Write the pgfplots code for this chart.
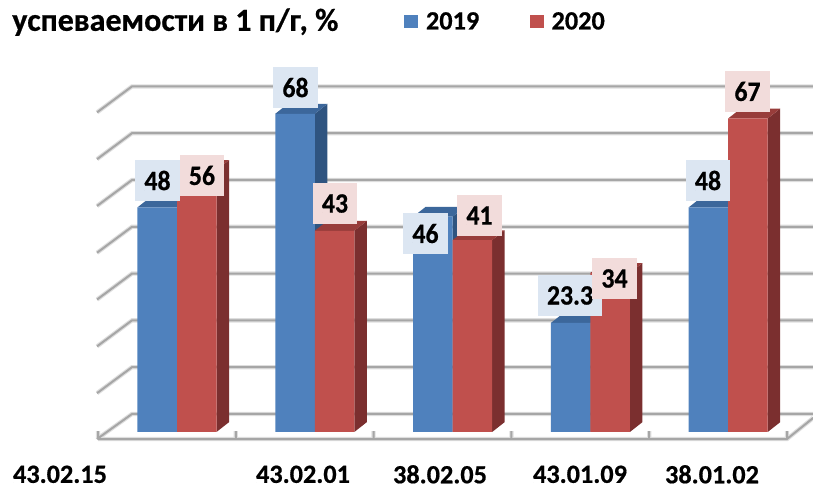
\documentclass[border=0pt]{standalone}
\usepackage{fontspec}
\setmainfont[BoldFeatures={FakeBold=0.6}]{Carlito}
\newfontfamily\valfam[BoldFeatures={FakeBold=0.6,FakeStretch=0.92}]{Carlito}
\usepackage{pgfplots}
\usepackage{pgfplotstable}
\pgfplotsset{compat=1.18}

\definecolor{blueF}{HTML}{4F81BD}
\definecolor{blueS}{HTML}{2F5480}
\definecolor{blueT}{HTML}{3C679B}
\definecolor{redF}{HTML}{C0504D}
\definecolor{redS}{HTML}{7B2F2F}
\definecolor{redT}{HTML}{983D3B}
\definecolor{blueL}{HTML}{DCE6F2}
\definecolor{redL}{HTML}{F2DCDB}
\definecolor{gridD}{HTML}{A6A6A6}
\definecolor{gridS}{HTML}{DEDEDE}

\newcommand\lblfont{\fontsize{19.7}{20}\selectfont\bfseries}
\newcommand\valfont{\valfam\fontsize{21}{21}\selectfont\bfseries}
\newcommand\ttlfont{\fontsize{24}{24}\selectfont\bfseries}

% bar tables: boundary between the two bars of a group, values
\pgfplotstableread{
pos v2019 v2020
0.5733 48 56
1.5733 68 43
2.5733 46 41
3.5733 23.3 34
4.5733 48 67
}\perf

% label positions were moved by hand in the original
\pgfplotstableread{
x y lbl
0.4318 53.74 48
1.4332 73.61 68
2.3766 42.41 46
3.4253 29.17 23.3
4.4267 53.74 48
}\lblblue
\pgfplotstableread{
x y lbl
0.7547 54.81 56
1.7199 48.82 43
2.7685 46.26 41
3.7482 32.80 34
4.7134 72.76 67
}\lblred

\def\barw{0.2867}
\def\ddx{0.0907}
\def\ddy{2.1}

% side and top face of one bar: left x, right x, value, colours
\newcommand\depthfaces[5]{%
  \pgfmathsetmacro\xa{#2+\ddx}%
  \pgfmathsetmacro\xb{#1+\ddx}%
  \pgfmathsetmacro\ya{#3+\ddy}%
  \edef\tmp{\noexpand\addplot[draw=none,fill=#4,forget plot] coordinates
    {(#2,0) (\xa,\ddy) (\xa,\ya) (#2,#3)} --cycle;
    \noexpand\addplot[draw=none,fill=#5,forget plot] coordinates
    {(#1,#3) (\xb,\ya) (\xa,\ya) (#2,#3)} --cycle;}%
  \tmp}

\newcommand\groupfaces[4]{% column, offset of left edge, side, top
  \pgfplotsinvokeforeach{0,1,2,3,4}{%
    \pgfplotstablegetelem{##1}{pos}\of\perf\let\curpos\pgfplotsretval
    \pgfplotstablegetelem{##1}{#1}\of\perf\let\curval\pgfplotsretval
    \pgfmathsetmacro\xl{\curpos+#2}%
    \pgfmathsetmacro\xr{\xl+\barw}%
    \depthfaces{\xl}{\xr}{\curval}{#3}{#4}%
  }}

\begin{document}
\begin{tikzpicture}
\begin{axis}[
    width=609.75pt, height=363.75pt, scale only axis,
    xmin=-0.7112, xmax=5.1887,
    ymin=-11.325, ymax=92.31,
    axis line style={draw=none},
    tick style={draw=none},
    ytick=\empty,
    xtick={-0.2758,1.4877,2.4819,3.4978,4.4557},
    xticklabels={43.02.15,43.02.01,38.02.05,43.01.09,38.01.02},
    x tick label style={font=\lblfont,anchor=center,yshift=8pt},
    title={успеваемости в 1 п/г, \%},
    title style={font=\ttlfont,at={(axis description cs:0.0148,0.938)},anchor=west,inner sep=0pt},
    legend image code/.code={\fill[#1] (0pt,-5pt) rectangle (10.5pt,5pt);\path (14.25pt,0pt);},
    legend style={
        at={(axis description cs:0.497,0.955)},anchor=west,
        draw=none,fill=none,inner sep=0pt,
        font=\lblfont,legend columns=-1,
        /tikz/every even column/.append style={column sep=36pt},
    },
]
% walls and floor
\pgfplotsforeachungrouped \lw/\col in {3.2pt/gridS,1.5pt/gridD}{
\edef\tmp{\noexpand\addplot[line width=\lw,color=\col,forget plot,unbounded coords=jump] coordinates {
  (-0.007,-1.5) (0.2467,3.85) (5.25,3.85) (nan,nan)
  (-0.007,8.3) (0.2467,13.85) (5.25,13.85) (nan,nan)
  (-0.007,18.3) (0.2467,23.85) (5.25,23.85) (nan,nan)
  (-0.007,28.3) (0.2467,33.85) (5.25,33.85) (nan,nan)
  (-0.007,38.3) (0.2467,43.85) (5.25,43.85) (nan,nan)
  (-0.007,48.3) (0.2467,53.85) (5.25,53.85) (nan,nan)
  (-0.007,58.3) (0.2467,63.85) (5.25,63.85) (nan,nan)
  (-0.007,68.3) (0.2467,73.85) (5.25,73.85) (nan,nan)
  (0,-1.5) (5,-1.5) (5.19,3.0) (nan,nan)
  (0,-1.5) (0,0.2) (nan,nan)
  (1,-1.5) (1,0.2) (nan,nan)
  (2,-1.5) (2,0.2) (nan,nan)
  (3,-1.5) (3,0.2) (nan,nan)
  (4,-1.5) (4,0.2) (nan,nan)
  (5,-1.5) (5,0.2)
};}\tmp
}

% 2019
\groupfaces{v2019}{-\barw}{blueS}{blueT}
\addplot[ybar,bar width=\barw,bar shift=-0.14335,draw=none,fill=blueF]
  table[x=pos,y=v2019] {\perf};
\addlegendentry{2019}
% 2020
\groupfaces{v2020}{0}{redS}{redT}
\addplot[ybar,bar width=\barw,bar shift=0.14335,draw=none,fill=redF]
  table[x=pos,y=v2020] {\perf};
\addlegendentry{2020}

% value labels
\addplot[draw=none,forget plot,point meta=explicit symbolic,
    nodes near coords=\pgfplotspointmeta,
    every node near coord/.style={font=\valfont,fill=blueL,anchor=center,inner xsep=6.9pt,inner ysep=0pt,minimum height=30.75pt,text=black}]
  table[x=x,y=y,meta=lbl] {\lblblue};
\addplot[draw=none,forget plot,point meta=explicit symbolic,
    nodes near coords=\pgfplotspointmeta,
    every node near coord/.style={font=\valfont,fill=redL,anchor=center,inner xsep=6.9pt,inner ysep=0pt,minimum height=30.75pt,text=black}]
  table[x=x,y=y,meta=lbl] {\lblred};
\end{axis}
\end{tikzpicture}
\end{document}
